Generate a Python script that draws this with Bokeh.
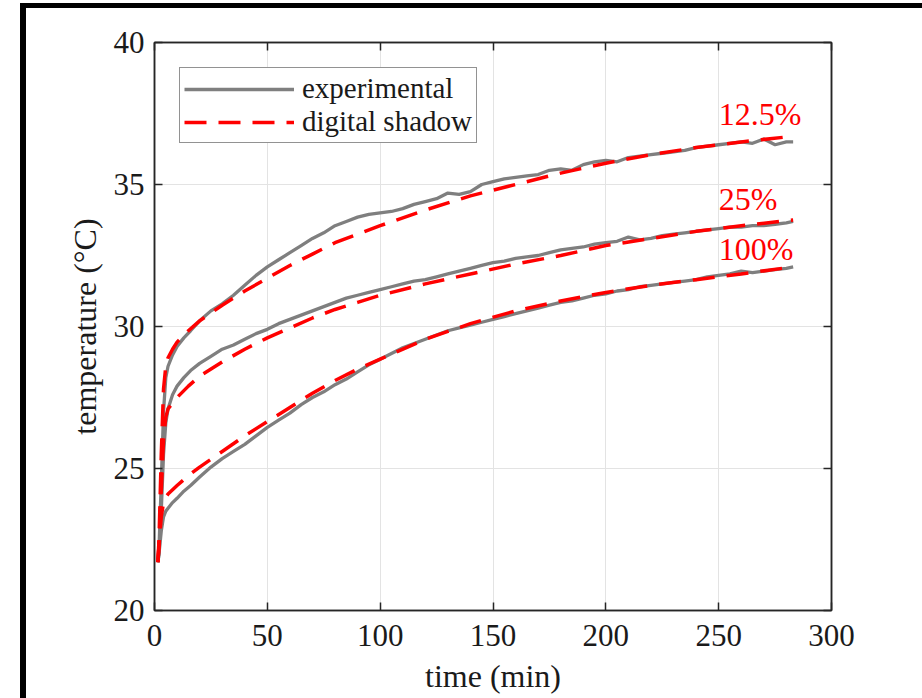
from bokeh.plotting import figure
from bokeh.models import (Range1d, LinearAxis, FixedTicker, Legend, LegendItem,
                          CustomJSTickFormatter, Label)
from bokeh.layouts import column
from bokeh.embed import file_html
from bokeh.resources import INLINE

# ---------------- data ----------------
x_ticks = [0, 50, 100, 150, 200, 250, 300]
y_ticks = [20, 25, 30, 35, 40]

t_exp = [1.5, 2, 3, 4, 5, 6, 8, 10, 13, 16, 20, 25, 30, 35, 40, 45, 50, 55, 60, 65,
         70, 75, 80, 85, 90, 95, 100, 105, 110, 115, 120, 125, 130, 135, 140, 145,
         150, 155, 160, 165, 170, 175, 180, 185, 190, 195, 200, 205, 210, 215, 220,
         225, 230, 235, 240, 245, 250, 255, 260, 265, 270, 275, 280, 283]

exp_12_5 = [21.7, 22.2, 24.5, 27.0, 28.2, 28.6, 29.0, 29.3, 29.6, 29.85, 30.2, 30.55,
            30.8, 31.1, 31.45, 31.8, 32.1, 32.35, 32.6, 32.85, 33.1, 33.3, 33.55, 33.7,
            33.85, 33.95, 34.0, 34.05, 34.15, 34.3, 34.4, 34.5, 34.7, 34.65, 34.75, 35.0,
            35.1, 35.2, 35.25, 35.3, 35.35, 35.5, 35.55, 35.5, 35.7, 35.8, 35.85, 35.8,
            35.95, 36.0, 36.05, 36.1, 36.15, 36.2, 36.3, 36.35, 36.4, 36.45, 36.5, 36.45,
            36.6, 36.4, 36.5, 36.5]

exp_25 = [21.7, 22.0, 23.5, 25.5, 26.6, 27.1, 27.6, 27.9, 28.2, 28.45, 28.7, 28.95,
          29.2, 29.35, 29.55, 29.75, 29.9, 30.1, 30.25, 30.4, 30.55, 30.7, 30.85, 31.0,
          31.1, 31.2, 31.3, 31.4, 31.5, 31.6, 31.65, 31.75, 31.85, 31.95, 32.05, 32.15,
          32.25, 32.3, 32.4, 32.45, 32.5, 32.6, 32.7, 32.75, 32.8, 32.9, 32.95, 33.0,
          33.15, 33.05, 33.1, 33.2, 33.25, 33.3, 33.35, 33.4, 33.45, 33.5, 33.5, 33.55,
          33.55, 33.6, 33.65, 33.7]

exp_100 = [21.7, 22.0, 22.8, 23.3, 23.5, 23.6, 23.8, 23.95, 24.2, 24.4, 24.7, 25.05,
           25.35, 25.6, 25.85, 26.15, 26.45, 26.7, 26.95, 27.25, 27.5, 27.7, 27.95, 28.15,
           28.4, 28.65, 28.85, 29.05, 29.25, 29.4, 29.55, 29.7, 29.85, 29.95, 30.05, 30.15,
           30.25, 30.35, 30.45, 30.55, 30.65, 30.75, 30.85, 30.9, 31.0, 31.1, 31.15, 31.25,
           31.3, 31.4, 31.45, 31.5, 31.55, 31.6, 31.65, 31.75, 31.8, 31.85, 31.95, 31.9,
           31.95, 32.0, 32.05, 32.1]

t_sim = [1.5, 2, 3, 4, 5, 6, 8, 10, 15, 20, 30, 40, 50, 60, 70, 80, 90, 100, 120, 140,
         160, 180, 200, 220, 240, 260, 283]

sim_12_5 = [21.7, 22.5, 25.5, 27.8, 28.6, 28.9, 29.2, 29.45, 29.85, 30.2, 30.75, 31.25,
            31.7, 32.15, 32.55, 32.95, 33.25, 33.55, 34.1, 34.6, 35.0, 35.4, 35.75, 36.05,
            36.3, 36.5, 36.7]
sim_25 = [21.7, 22.3, 24.2, 26.0, 26.8, 27.1, 27.3, 27.5, 27.9, 28.25, 28.75, 29.2, 29.6,
          29.95, 30.3, 30.6, 30.85, 31.1, 31.5, 31.85, 32.2, 32.5, 32.85, 33.1, 33.35,
          33.55, 33.75]
sim_100 = [21.7, 22.3, 23.3, 23.8, 24.0, 24.1, 24.25, 24.4, 24.75, 25.05, 25.6, 26.15,
           26.65, 27.15, 27.65, 28.1, 28.5, 28.85, 29.55, 30.1, 30.55, 30.9, 31.2, 31.45,
           31.65, 31.85, 32.1]

curve_labels = ["12.5%", "25%", "100%"]
label_t = [250, 250, 250]
label_T = [37.5, 34.5, 32.74]

x_title = "time (min)"
y_title = "temperature (°C)"

# ---------------- figure ----------------
FONT = "Liberation Serif"
INK = "#262626"
GREY = "#7f7f7f"
RED = "#ff0000"

p = figure(width=896, height=690, x_range=Range1d(0, 300), y_range=Range1d(20, 40),
           output_backend="svg", toolbar_location=None,
           min_border_left=128, min_border_top=34, min_border_right=91,
           min_border_bottom=88)
p.background_fill_color = "white"
p.border_fill_color = "white"
p.outline_line_color = INK
p.outline_line_width = 1.5

bottom_ax = p.below[0]
left_ax = p.left[0]
bottom_ax.ticker = FixedTicker(ticks=x_ticks)
left_ax.ticker = FixedTicker(ticks=y_ticks)
p.xgrid.ticker = FixedTicker(ticks=x_ticks)
p.ygrid.ticker = FixedTicker(ticks=y_ticks)
p.grid.grid_line_color = "#e3e3e3"
p.grid.grid_line_width = 1

top_ax = LinearAxis(ticker=FixedTicker(ticks=x_ticks),
                    formatter=CustomJSTickFormatter(code="return ''"))
right_ax = LinearAxis(ticker=FixedTicker(ticks=y_ticks),
                      formatter=CustomJSTickFormatter(code="return ''"))
p.add_layout(top_ax, "above")
p.add_layout(right_ax, "right")

for ax in [bottom_ax, left_ax, top_ax, right_ax]:
    ax.major_tick_in = 8
    ax.major_tick_out = 0
    ax.minor_tick_in = 0
    ax.minor_tick_out = 0
    ax.axis_line_color = INK
    ax.axis_line_width = 1.5
    ax.major_tick_line_color = INK
    ax.major_tick_line_width = 1.5
    ax.major_label_text_font = FONT
    ax.major_label_text_font_size = "31px"
    ax.major_label_text_color = "#1a1a1a"
    ax.axis_label_text_font = FONT
    ax.axis_label_text_font_size = "32px"
    ax.axis_label_text_font_style = "normal"
    ax.axis_label_text_color = "#1a1a1a"

top_ax.major_label_standoff = 0
right_ax.major_label_standoff = 0

bottom_ax.axis_label = x_title
bottom_ax.major_label_standoff = 14
bottom_ax.axis_label_standoff = 9
left_ax.axis_label = y_title
left_ax.major_label_standoff = 10
left_ax.axis_label_standoff = 8

exp_series = [exp_12_5, exp_25, exp_100]
sim_series = [sim_12_5, sim_25, sim_100]
exp_r, sim_r = [], []
for ys in exp_series:
    exp_r.append(p.line(t_exp, ys, line_color=GREY, line_width=3.3))
for ys in sim_series:
    sim_r.append(p.line(t_sim, ys, line_color=RED, line_width=3.5, line_dash="22 12"))

for txt, tx, ty in zip(curve_labels, label_t, label_T):
    p.add_layout(Label(x=tx, y=ty, text=txt, text_color=RED, text_font=FONT,
                       text_font_size="32px", text_baseline="alphabetic"))

legend = Legend(items=[LegendItem(label="experimental", renderers=[exp_r[0]]),
                       LegendItem(label="digital shadow", renderers=[sim_r[0]])],
                location="top_left")
legend.margin = 25
legend.padding = 4
legend.spacing = 0
legend.glyph_width = 110
legend.glyph_height = 26
legend.label_height = 26
legend.label_standoff = 8
legend.label_text_font = FONT
legend.label_text_font_size = "29px"
legend.label_text_color = "#1a1a1a"
legend.border_line_color = INK
legend.border_line_width = 1.5
legend.background_fill_color = "white"
legend.background_fill_alpha = 1
p.add_layout(legend, "center")

page = column(p, margin=(3, 0, 0, 20),
              styles={"border-left": "6px solid black", "border-top": "5px solid black"})

open("out.html", "w").write(file_html(page, INLINE))
